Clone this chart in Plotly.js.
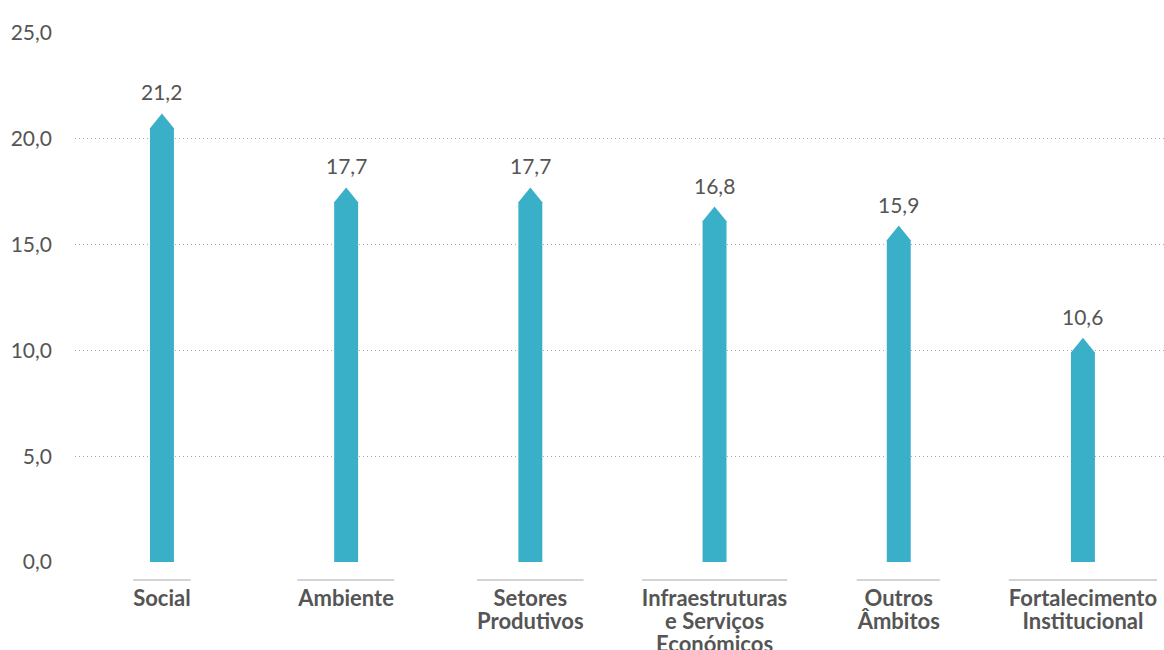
<!DOCTYPE html>
<html>
<head>
<meta charset="utf-8">
<script src="https://cdn.plot.ly/plotly-3.0.1.min.js"></script>
<style>
  html, body { margin: 0; padding: 0; background: #fff; }
  #chart { width: 1164px; height: 650px; }
</style>
</head>
<body>
<div id="chart"></div>
<script>
const categories = ["Social", "Ambiente", "Setores<br>Produtivos", "Infraestruturas<br>e Serviços<br>Económicos", "Outros<br>Âmbitos", "Fortalecimento<br>Institucional"];
const values = [21.2, 17.7, 17.7, 16.8, 15.9, 10.6];
const yTicks = [0, 5, 10, 15, 20, 25];

const barColor = "#3AAFC8";
const textColor = "#555555";
const halfW = 0.065;   // half bar width in category units
const arrowH = 0.7;    // arrow head height in value units

const traces = values.map((v, i) => ({
  type: "scatter",
  mode: "lines",
  x: [i - halfW, i - halfW, i, i + halfW, i + halfW, i - halfW],
  y: [0, v - arrowH, v, v - arrowH, 0, 0],
  fill: "toself",
  fillcolor: barColor,
  line: { width: 0, color: barColor },
  hoverinfo: "skip",
  showlegend: false
}));

const annotations = values.map((v, i) => ({
  x: i, y: v, xref: "x", yref: "y",
  text: v.toFixed(1).replace(".", ","),
  showarrow: false,
  yanchor: "bottom",
  yshift: 7,
  font: { family: "Lato", size: 21, color: textColor }
}));

const layout = {
  width: 1164, height: 650,
  margin: { l: 75, r: 0, t: 33, b: 88 },
  paper_bgcolor: "#fff", plot_bgcolor: "#fff",
  separators: ", ",
  showlegend: false,
  font: { family: "Lato", color: textColor },
  xaxis: {
    range: [-0.472, 5.44],
    tickmode: "array",
    tickvals: categories.map((c, i) => i),
    ticktext: categories,
    showgrid: false, zeroline: false, showline: false,
    ticks: "",
    ticklabelstandoff: 21,
    tickfont: { family: "Lato", size: 22, color: textColor, weight: "bold" },
    fixedrange: true
  },
  yaxis: {
    range: [0, 25],
    tickmode: "array",
    tickvals: yTicks,
    tickformat: ".1f",
    showgrid: true, gridcolor: "#a8a8a8", griddash: "1px,3px", gridwidth: 1,
    zeroline: false, showline: false, ticks: "",
    ticklabelstandoff: 22,
    tickfont: { family: "Lato", size: 21, color: textColor },
    fixedrange: true
  },
  annotations: annotations
};

function tightenLines(gd) {
  const factor = 1.045 / 1.3;
  gd.querySelectorAll(".xtick text tspan.line").forEach(ts => {
    const dy = ts.getAttribute("dy");
    if (dy && dy.endsWith("em")) {
      const val = parseFloat(dy);
      ts.setAttribute("dy", (val * factor) + "em");
    }
  });
}

Plotly.newPlot("chart", traces, layout, { displayModeBar: false, staticPlot: true }).then(gd => {
  const shapes = [];
  const fullW = gd._fullLayout.width;
  const fullH = gd._fullLayout.height;
  const m = gd._fullLayout.margin;
  const pw = fullW - m.l - m.r, ph = fullH - m.t - m.b;
  const rootRect = gd.getBoundingClientRect();
  gd.querySelectorAll(".xtick text").forEach(t => {
    const r = t.getBoundingClientRect();
    const xl = r.left - rootRect.left, xr = r.right - rootRect.left;
    const ypx = r.top - rootRect.top - 4;
    const yp = 1 - (ypx - m.t) / ph;
    shapes.push({
      type: "line", xref: "paper", yref: "paper",
      x0: (xl - m.l) / pw, x1: (xr - m.l) / pw, y0: yp, y1: yp,
      line: { color: "#d4d4d4", width: 2 }
    });
  });
  return Plotly.relayout(gd, { shapes: shapes });
}).then(gd => {
  tightenLines(gd);
});
</script>
</body>
</html>
